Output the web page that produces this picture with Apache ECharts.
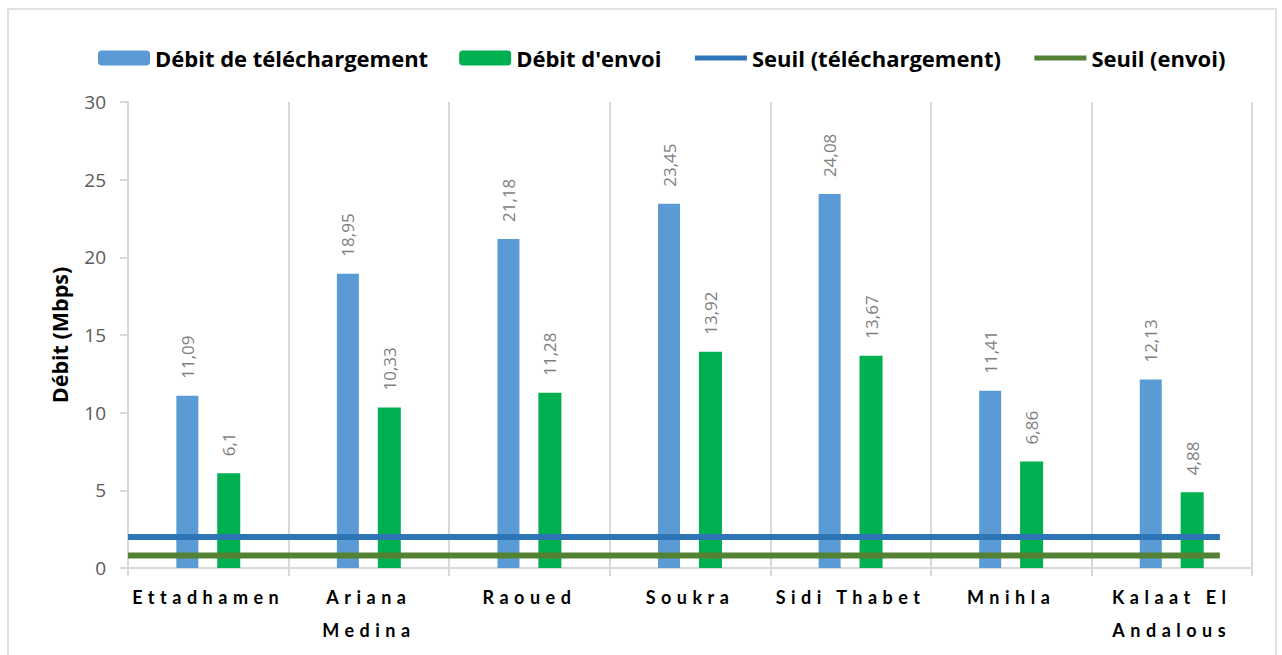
<!DOCTYPE html>
<html>
<head>
<meta charset="utf-8">
<script src="https://cdn.jsdelivr.net/npm/echarts@6/dist/echarts.min.js"></script>
<style>
  html, body { margin: 0; padding: 0; background: #fff; }
  #chart { width: 1282px; height: 655px; }
</style>
</head>
<body>
<div id="chart"></div>
<script>
// values
const categories = ['Ettadhamen', 'Ariana\nMedina', 'Raoued', 'Soukra', 'Sidi Thabet', 'Mnihla', 'Kalaat El\nAndalous'];
const downloadValues = [11.09, 18.95, 21.18, 23.45, 24.08, 11.41, 12.13];
const uploadValues = [6.1, 10.33, 11.28, 13.92, 13.67, 6.86, 4.88];
const downloadThreshold = 2;
const uploadThreshold = 0.8;
const thresholdSpan = [0, 6.8]; // along the category extent (0..7)

const FONT = '"Open Sans", Lato, sans-serif';
const CAT_FONT = 'Lato, "Open Sans", sans-serif';
const fmt = v => String(v).replace('.', ',');

const chart = echarts.init(document.getElementById('chart'), null, { renderer: 'svg' });

const barLabel = {
  show: true,
  position: 'top',
  rotate: 90,
  align: 'left',
  verticalAlign: 'middle',
  distance: 17,
  color: '#7f7f7f',
  fontFamily: FONT,
  fontSize: 17,
  formatter: p => fmt(p.value)
};

const lineLegend = { itemStyle: { opacity: 0 }, lineStyle: { width: 5 } };

chart.setOption({
  animation: false,
  graphic: [{
    type: 'rect',
    shape: { x: 8, y: 9, width: 1268, height: 700 },
    style: { fill: 'none', stroke: '#d9d9d9', lineWidth: 1.5 },
    silent: true
  }],
  legend: {
    top: 42,
    left: 93,
    itemWidth: 52,
    itemHeight: 15,
    itemGap: 31,
    textStyle: { fontFamily: FONT, fontSize: 22, fontWeight: 'bold', color: '#000' },
    data: [
      { name: 'Débit de téléchargement' },
      { name: "Débit d'envoi" },
      Object.assign({ name: 'Seuil (téléchargement)' }, lineLegend),
      Object.assign({ name: 'Seuil (envoi)' }, lineLegend)
    ]
  },
  grid: { left: 128, right: 30, top: 102, bottom: 87 },
  xAxis: [{
    type: 'category',
    data: categories,
    axisLine: { lineStyle: { color: '#d9d9d9', width: 2 } },
    axisTick: { show: true, length: 8, lineStyle: { color: '#d9d9d9', width: 2 } },
    splitLine: { show: true, lineStyle: { color: '#d9d9d9', width: 2 } },
    axisLabel: {
      interval: 0,
      margin: 12,
      color: '#000',
      fontFamily: CAT_FONT,
      fontSize: 18,
      fontWeight: 'bold',
      lineHeight: 33
    }
  }, {
    type: 'value',
    min: 0,
    max: 7,
    show: false
  }],
  yAxis: {
    type: 'value',
    min: 0,
    max: 30,
    interval: 5,
    name: 'Débit (Mbps)',
    nameLocation: 'middle',
    nameRotate: 90,
    nameGap: 58,
    nameTextStyle: { fontFamily: FONT, fontSize: 21.5, fontWeight: 'bold', color: '#000' },
    axisLine: { show: true, lineStyle: { color: '#d9d9d9', width: 2 } },
    axisTick: { show: true, length: 8, lineStyle: { color: '#d9d9d9', width: 2 } },
    splitLine: { show: false },
    axisLabel: { margin: 22, color: '#595959', fontFamily: FONT, fontSize: 19 }
  },
  series: [{
    name: 'Débit de téléchargement',
    type: 'bar',
    data: downloadValues,
    barWidth: 22,
    barGap: '86%',
    itemStyle: { color: '#5b9bd5' },
    label: barLabel
  }, {
    name: "Débit d'envoi",
    type: 'bar',
    data: uploadValues,
    barWidth: 23,
    itemStyle: { color: '#00b050' },
    label: barLabel
  }, {
    name: 'Seuil (téléchargement)',
    type: 'line',
    xAxisIndex: 1,
    data: thresholdSpan.map(x => [x, downloadThreshold]),
    symbol: 'none',
    z: 5,
    itemStyle: { color: '#2e75b6' },
    lineStyle: { color: '#2e75b6', width: 6 }
  }, {
    name: 'Seuil (envoi)',
    type: 'line',
    xAxisIndex: 1,
    data: thresholdSpan.map(x => [x, uploadThreshold]),
    symbol: 'none',
    z: 5,
    itemStyle: { color: '#548235' },
    lineStyle: { color: '#548235', width: 6 }
  }]
});

// the category labels are letter-spaced in the original
const labelLines = new Set(categories.join('\n').split('\n'));
function spaceLabels() {
  document.querySelectorAll('#chart svg text').forEach(t => {
    if (labelLines.has(t.textContent)) t.setAttribute('letter-spacing', '5.5px');
  });
}
spaceLabels();
chart.on('finished', spaceLabels);
</script>
</body>
</html>
